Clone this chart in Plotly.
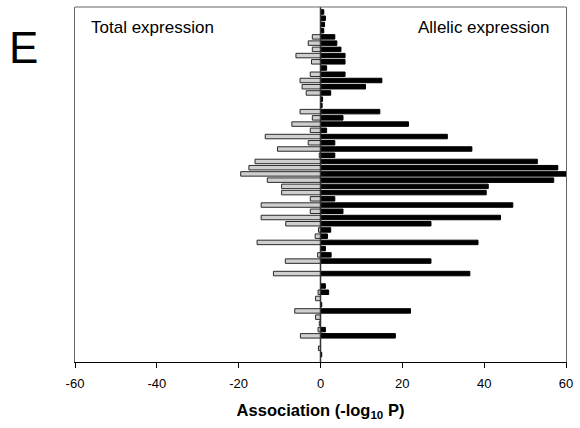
import plotly.graph_objects as go

# Row positions (top to bottom); None marks an empty row
rows = list(range(56))

# Total expression association (plotted to the left, as negative -log10 P)
total_expr = [
    0, 0, 0, 0, -2, -3, -2, -6, -2.2, 0,
    -2.5, -5, -4.5, -3.5, 0, 0, -5, -2, -7, -2.5,
    -13.5, -3, -10.5, -0.3, -16, -17.5, -19.5, -13, -9.5, -9.5,
    -2.5, -14.5, -2.5, -14.5, -8.5, -0.5, -1.3, -15.5, 0, -0.7,
    -8.6, None, -11.5, None, 0, -0.6, -1.2, 0, -6.3, -1.2,
    -0.3, -0.6, -4.9, None, -0.5, 0,
]

# Allelic expression association (plotted to the right)
allelic_expr = [
    0.8, 1.2, 1.0, 0.8, 3.5, 4, 5, 6, 6, 1.5,
    6, 15, 11, 2.5, 0.5, 0.4, 14.5, 5.5, 21.5, 1.5,
    31, 3.5, 37, 3.5, 53, 58, 60, 57, 41, 40.5,
    3.5, 47, 5.5, 44, 27, 2.5, 1.7, 38.5, 1.2, 2.6,
    27, None, 36.5, None, 1.2, 2, 0, 0.3, 22, 0,
    0, 1.2, 18.3, None, 0, 0.3,
]

x_ticks = [-60, -40, -20, 0, 20, 40, 60]

font_family = "Liberation Sans, Arial, sans-serif"

fig = go.Figure()
fig.add_trace(go.Bar(
    y=rows, x=total_expr, orientation="h", width=0.72,
    marker=dict(color="#cfcfcf", line=dict(color="#2a2a2a", width=1)),
    name="Total expression", showlegend=False,
))
fig.add_trace(go.Bar(
    y=rows, x=allelic_expr, orientation="h", width=0.72,
    marker=dict(color="#000000", line=dict(color="#000000", width=1)),
    name="Allelic expression", showlegend=False,
))

# Vertical line at zero
fig.add_shape(type="line", xref="x", yref="paper", x0=0, x1=0, y0=0, y1=1,
              line=dict(color="#333333", width=1.5))

# Top border line
fig.add_shape(type="line", xref="paper", yref="paper", x0=0, x1=1, y0=1, y1=1,
              line=dict(color="#666666", width=1))

fig.update_layout(
    width=580, height=428,
    margin=dict(l=75, r=12, t=7, b=66),
    barmode="overlay",
    plot_bgcolor="white", paper_bgcolor="white",
    font=dict(family=font_family, color="#000000"),
    xaxis=dict(
        range=[-60, 60], tickvals=x_ticks, ticktext=[str(v) for v in x_ticks],
        ticks="outside", ticklen=5, tickwidth=1, tickcolor="#000000",
        ticklabelstandoff=4,
        showline=True, linecolor="#000000", linewidth=1, mirror=False,
        showgrid=False, zeroline=False,
        tickfont=dict(size=13, family=font_family),
        title=dict(text="<b>Association (-log<sub>10</sub> P)</b>",
                   font=dict(size=16.5, family=font_family), standoff=14),
    ),
    yaxis=dict(
        range=[56.2, -0.8], showticklabels=False, ticks="",
        showline=True, linecolor="#666666", linewidth=1, mirror=True,
        showgrid=False, zeroline=False,
    ),
    annotations=[
        dict(text="E", xref="paper", yref="paper", x=-0.072, y=0.885,
             xanchor="right", yanchor="middle", showarrow=False,
             font=dict(size=44, family=font_family)),
        dict(text="Total expression", xref="paper", yref="paper", x=0.028, y=0.974,
             xanchor="left", yanchor="top", showarrow=False,
             font=dict(size=17, family=font_family)),
        dict(text="Allelic expression", xref="paper", yref="paper", x=0.97, y=0.974,
             xanchor="right", yanchor="top", showarrow=False,
             font=dict(size=17, family=font_family)),
    ],
)

fig.write_html("out.html")
